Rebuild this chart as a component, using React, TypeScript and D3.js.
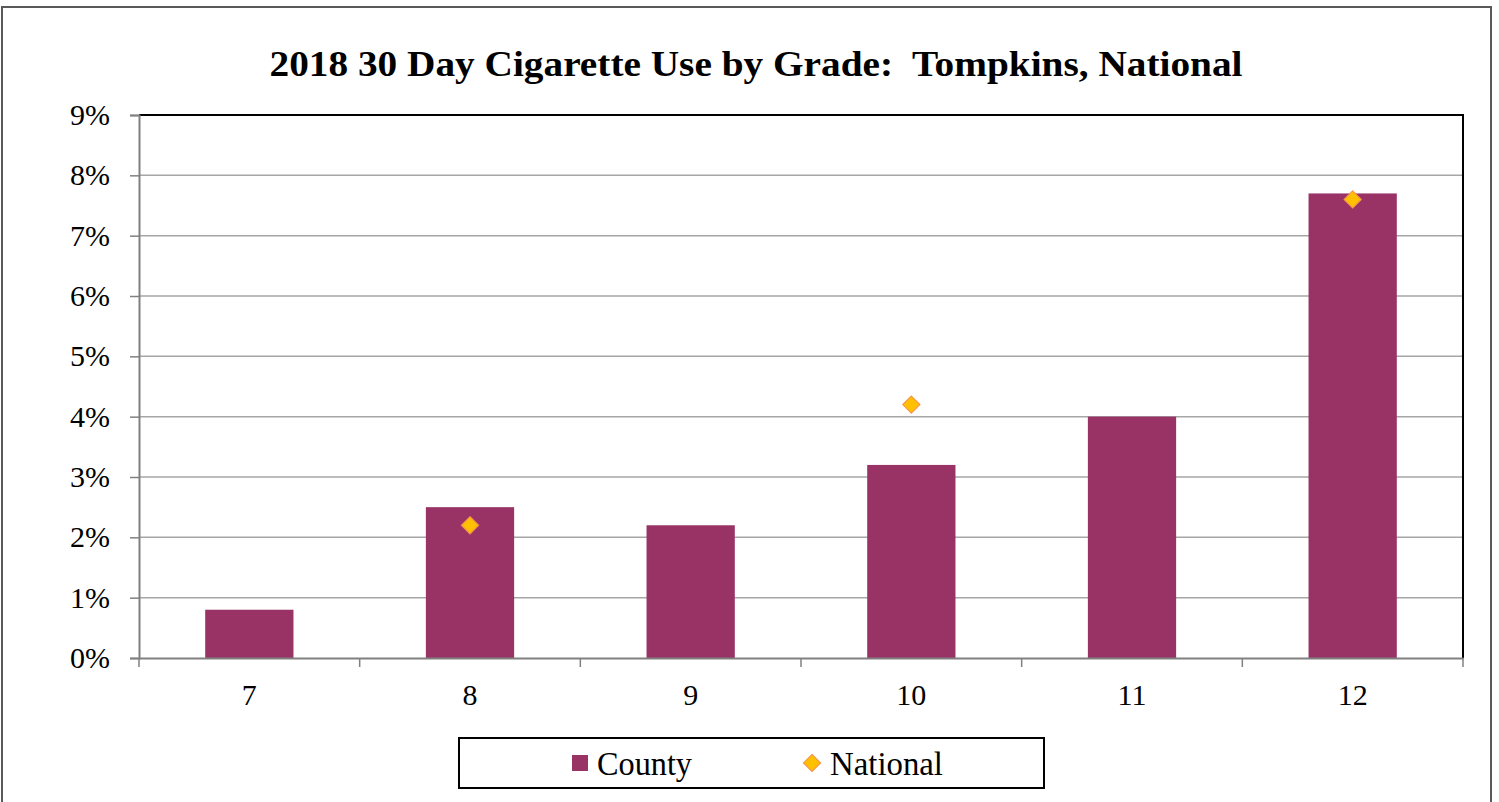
import { useEffect, useRef } from 'react'
import * as d3 from 'd3'

const grades = ['7', '8', '9', '10', '11', '12']
const countyValues = [0.008, 0.025, 0.022, 0.032, 0.04, 0.077]
const nationalValues: (number | null)[] = [null, 0.022, null, 0.042, null, 0.076]
const yTicks = [0, 0.01, 0.02, 0.03, 0.04, 0.05, 0.06, 0.07, 0.08, 0.09]

const W = 1499
const H = 802
const FONT = '"Liberation Serif", "DejaVu Serif", serif'

export default function App() {
  const svgRef = useRef<SVGSVGElement>(null)

  useEffect(() => {
    if (!svgRef.current) return
    const svg = d3.select(svgRef.current)
    svg.selectAll('*').remove()

    const plot = { left: 139, right: 1463, top: 115, bottom: 658 }

    // Outer chart frame
    svg.append('rect')
      .attr('x', 2).attr('y', 7)
      .attr('width', 1489).attr('height', 810)
      .attr('fill', '#fff')
      .attr('stroke', '#595959')
      .attr('stroke-width', 2)

    svg.append('text')
      .attr('x', 756).attr('y', 76)
      .attr('text-anchor', 'middle')
      .attr('font-family', FONT)
      .attr('font-weight', 'bold')
      .attr('font-size', 36)
      .attr('textLength', 973)
      .attr('lengthAdjust', 'spacingAndGlyphs')
      .style('white-space', 'pre')
      .text('2018 30 Day Cigarette Use by Grade:  Tompkins, National')

    const x = d3.scaleBand().domain(grades).range([plot.left, plot.right])
    const y = d3.scaleLinear().domain([0, 0.09]).range([plot.bottom, plot.top])

    // Gridlines
    svg.append('g')
      .selectAll('line')
      .data(yTicks.slice(1, -1))
      .join('line')
      .attr('x1', plot.left).attr('x2', plot.right)
      .attr('y1', d => y(d)).attr('y2', d => y(d))
      .attr('stroke', '#a6a6a6')
      .attr('stroke-width', 1.5)

    // Plot border top/right
    svg.append('path')
      .attr('d', `M${plot.left},${plot.top}H${plot.right}V${plot.bottom}`)
      .attr('fill', 'none')
      .attr('stroke', '#000')
      .attr('stroke-width', 2)

    // Bars
    const barW = x.bandwidth() * 0.4
    svg.append('g')
      .selectAll('rect')
      .data(countyValues)
      .join('rect')
      .attr('x', (_, i) => x(grades[i])! + (x.bandwidth() - barW) / 2)
      .attr('y', d => y(d))
      .attr('width', barW)
      .attr('height', d => plot.bottom - y(d))
      .attr('fill', '#993366')

    // Y axis
    const yAxis = svg.append('g')
      .attr('transform', `translate(${plot.left},0)`)
      .call(d3.axisLeft(y).tickValues(yTicks).tickFormat(d3.format('.0%')).tickSize(9).tickPadding(20))
    yAxis.select('.domain').attr('stroke', '#808080').attr('stroke-width', 2)
    yAxis.selectAll('.tick line').attr('stroke', '#808080').attr('stroke-width', 1.5)
    yAxis.selectAll('.tick text')
      .attr('font-family', FONT)
      .attr('font-size', 30)
      .attr('fill', '#000')

    // X axis
    const xAxis = svg.append('g')
      .attr('transform', `translate(0,${plot.bottom})`)
      .call(d3.axisBottom(x).tickSize(0).tickPadding(26))
    xAxis.select('.domain').attr('stroke', '#808080').attr('stroke-width', 2)
    xAxis.selectAll('.tick text')
      .attr('font-family', FONT)
      .attr('font-size', 30)
      .attr('fill', '#000')
    svg.append('g')
      .selectAll('line')
      .data(d3.range(grades.length + 1))
      .join('line')
      .attr('x1', i => plot.left + i * x.step())
      .attr('x2', i => plot.left + i * x.step())
      .attr('y1', plot.bottom).attr('y2', plot.bottom + 9)
      .attr('stroke', '#808080')
      .attr('stroke-width', 1.5)

    // National markers
    const diamond = d3.symbol().type(d3.symbolDiamond2).size(185)
    svg.append('g')
      .selectAll('path')
      .data(nationalValues.map((v, i) => ({ v, g: grades[i] })).filter(d => d.v != null))
      .join('path')
      .attr('transform', d => `translate(${x(d.g)! + x.bandwidth() / 2},${y(d.v as number)})`)
      .attr('d', diamond)
      .attr('fill', '#ffc000')
      .attr('stroke', '#f79646')
      .attr('stroke-width', 1.2)

    // Legend
    const lg = svg.append('g')
    lg.append('rect')
      .attr('x', 459).attr('y', 738)
      .attr('width', 585).attr('height', 50)
      .attr('fill', '#fff')
      .attr('stroke', '#000')
      .attr('stroke-width', 2)
    lg.append('rect')
      .attr('x', 572).attr('y', 755)
      .attr('width', 16).attr('height', 16)
      .attr('fill', '#993366')
    lg.append('text')
      .attr('x', 597).attr('y', 775)
      .attr('font-family', FONT)
      .attr('font-size', 33)
      .attr('textLength', 95)
      .attr('lengthAdjust', 'spacingAndGlyphs')
      .text('County')
    lg.append('path')
      .attr('transform', 'translate(812,763)')
      .attr('d', diamond)
      .attr('fill', '#ffc000')
      .attr('stroke', '#f79646')
      .attr('stroke-width', 1.2)
    lg.append('text')
      .attr('x', 830).attr('y', 775)
      .attr('font-family', FONT)
      .attr('font-size', 33)
      .attr('textLength', 113)
      .attr('lengthAdjust', 'spacingAndGlyphs')
      .text('National')
  }, [])

  return (
    <svg
      ref={svgRef}
      width={W}
      height={H}
      style={{ position: 'absolute', left: 0, top: 0, background: '#fff' }}
    />
  )
}
